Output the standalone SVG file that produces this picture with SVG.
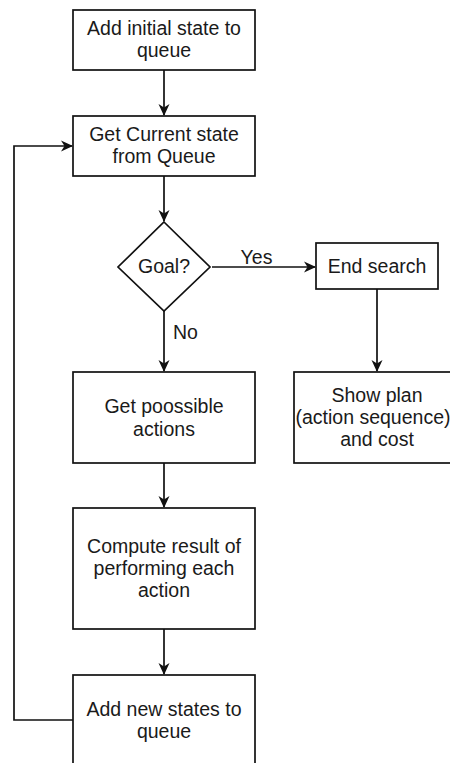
<svg xmlns="http://www.w3.org/2000/svg" width="450" height="763" viewBox="0 0 450 763">
  <style>
    .box { fill: #ffffff; stroke: #111111; stroke-width: 1.7; }
    .edge { fill: none; stroke: #111111; stroke-width: 1.7; }
    .label { font-family: "Liberation Sans", Arial, sans-serif; font-size: 19.5px; fill: #1a1a1a; text-anchor: middle; }
    .edge-label { font-family: "Liberation Sans", Arial, sans-serif; font-size: 19.5px; fill: #1a1a1a; }
  </style>
  <defs>
    <marker id="arrow" markerUnits="userSpaceOnUse" viewBox="0 0 12 12" refX="11" refY="6" markerWidth="12" markerHeight="12" orient="auto">
      <path d="M0,0.5 L12,6 L0,11.5 L3.5,6 Z" fill="#111111"/>
    </marker>
  </defs>
  <rect width="450" height="763" fill="#ffffff"/>

  <g id="connectors">
    <path class="edge" d="M164,70 V115" marker-end="url(#arrow)"/>
    <path class="edge" d="M164,176 V221" marker-end="url(#arrow)"/>
    <path class="edge" d="M212,267 H315" marker-end="url(#arrow)"/>
    <path class="edge" d="M164,311 V371" marker-end="url(#arrow)"/>
    <path class="edge" d="M377,289 V371" marker-end="url(#arrow)"/>
    <path class="edge" d="M164,463 V507" marker-end="url(#arrow)"/>
    <path class="edge" d="M164,629 V674" marker-end="url(#arrow)"/>
    <path class="edge" d="M73,720 H14 V146 H72" marker-end="url(#arrow)"/>
    <text class="edge-label" x="256.5" y="264" text-anchor="middle">Yes</text>
    <text class="edge-label" x="173" y="339">No</text>
  </g>

  <g id="add-initial">
    <rect class="box" x="73" y="10" width="182" height="60"/>
    <text class="label" x="164" y="35">Add initial state to</text>
    <text class="label" x="164" y="57">queue</text>
  </g>

  <g id="get-current">
    <rect class="box" x="73" y="116" width="182" height="60"/>
    <text class="label" x="164" y="141">Get Current state</text>
    <text class="label" x="164" y="163">from Queue</text>
  </g>

  <g id="goal">
    <path class="box" d="M164,222 L210,267 L164,311 L118,267 Z"/>
    <text class="label" x="164" y="273">Goal?</text>
  </g>

  <g id="end-search">
    <rect class="box" x="316" y="243" width="122" height="46"/>
    <text class="label" x="377" y="273">End search</text>
  </g>

  <g id="show-plan">
    <rect class="box" x="294" y="372" width="166" height="91"/>
    <text class="label" x="377" y="402">Show plan</text>
    <text class="label" x="373" y="424">(action sequence)</text>
    <text class="label" x="377" y="446">and cost</text>
  </g>

  <g id="get-actions">
    <rect class="box" x="73" y="372" width="182" height="91"/>
    <text class="label" x="164" y="413">Get poossible</text>
    <text class="label" x="164" y="435.5">actions</text>
  </g>

  <g id="compute-result">
    <rect class="box" x="73" y="508" width="182" height="121"/>
    <text class="label" x="164" y="552.5">Compute result of</text>
    <text class="label" x="164" y="574.5">performing each</text>
    <text class="label" x="164" y="596.5">action</text>
  </g>

  <g id="add-new-states">
    <rect class="box" x="73" y="675" width="182" height="91"/>
    <text class="label" x="164" y="716">Add new states to</text>
    <text class="label" x="164" y="738">queue</text>
  </g>
</svg>
